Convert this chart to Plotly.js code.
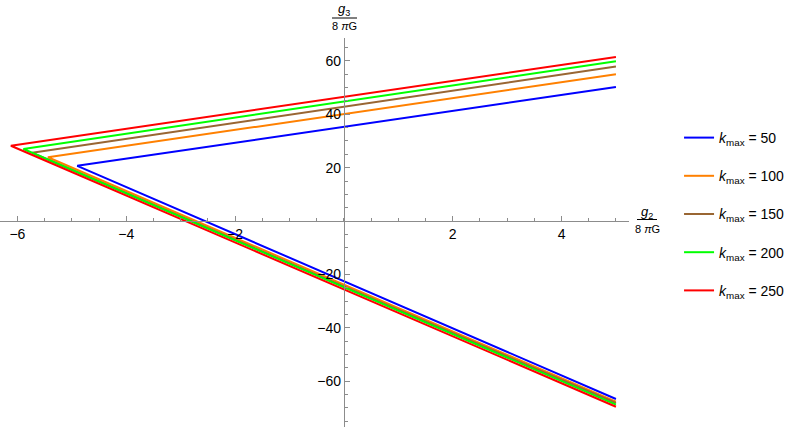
<!DOCTYPE html>
<html>
<head>
<meta charset="utf-8">
<script src="https://cdn.plot.ly/plotly-3.0.1.min.js"></script>
<style>body{margin:0;background:#fff;} #chart{width:797px;height:429px;}</style>
</head>
<body>
<div id="chart"></div>
<script>
// k_max values of each curve
const kmax = [50, 100, 150, 200, 250];
// Vertex of each V-shaped curve (g2/8πG, g3/8πG)
const vertexX = [-4.90, -5.44, -5.73, -5.89, -6.12];
const vertexY = [20.7, 23.9, 25.6, 27.0, 28.2];
// End values at g2/8πG = 5
const endX = 5;
const upperY = [50.2, 55.0, 57.9, 59.9, 61.5];
const lowerY = [-66.7, -67.7, -68.2, -68.8, -69.6];
const colors = ['#0000FF', '#FF8000', '#996633', '#00FF00', '#FF0000'];

const xTicks = [-6, -4, -2, 2, 4];
const yTicks = [-60, -40, -20, 20, 40, 60];
const xRange = [-6.32, 5.24];
const yRange = [-77.2, 68.6];

const traces = kmax.map((k, i) => ({
  type: 'scatter',
  mode: 'lines',
  x: [endX, vertexX[i], endX],
  y: [upperY[i], vertexY[i], lowerY[i]],
  line: {color: colors[i], width: 2},
  name: '<i>k</i><sub>max</sub> = ' + k,
  legendgroup: 'g' + i,
  hoverinfo: 'skip'
}));

const axisCommon = {
  showgrid: false,
  zeroline: false,
  showline: true,
  linecolor: '#8c8c8c',
  linewidth: 1,
  ticks: 'inside',
  ticklen: 5,
  tickcolor: '#8c8c8c',
  tickwidth: 1,
  tickmode: 'array',
  tickfont: {family: 'Liberation Sans, Arial, sans-serif', size: 14, color: '#000'},
  fixedrange: true
};

const layout = {
  width: 797,
  height: 429,
  margin: {l: 0, r: 168, t: 38, b: 2},
  paper_bgcolor: '#fff',
  plot_bgcolor: '#fff',
  showlegend: true,
  legend: {
    xref: 'container', yref: 'container',
    x: 0.852, y: 1 - 122/429, xanchor: 'left', yanchor: 'top',
    font: {family: 'Liberation Sans, Arial, sans-serif', size: 14, color: '#000'},
    tracegroupgap: 17,
    itemwidth: 30,
    bgcolor: 'rgba(0,0,0,0)'
  },
  xaxis: Object.assign({}, axisCommon, {
    range: xRange,
    tickvals: xTicks,
    ticktext: xTicks.map(v => v < 0 ? '\u2212' + Math.abs(v) : String(v)),
    anchor: 'free',
    position: (0 - yRange[0]) / (yRange[1] - yRange[0]),
    minor: {dtick: 0.5, tick0: 0, ticks: 'inside', ticklen: 3, tickcolor: '#8c8c8c'}
  }),
  yaxis: Object.assign({}, axisCommon, {
    range: yRange,
    tickvals: yTicks,
    ticktext: yTicks.map(v => v < 0 ? '\u2212' + Math.abs(v) : String(v)),
    anchor: 'free',
    position: (0 - xRange[0]) / (xRange[1] - xRange[0]),
    minor: {dtick: 5, tick0: 0, ticks: 'inside', ticklen: 3, tickcolor: '#8c8c8c'}
  }),
  annotations: [
    {xref: 'paper', yref: 'paper', x: 344/629, y: (427-10)/389, text: '<i>g</i><sub>3</sub>', showarrow: false,
     font: {family: 'Liberation Sans, Arial, sans-serif', size: 13, color: '#000'}, xanchor: 'center', yanchor: 'middle'},
    {xref: 'paper', yref: 'paper', x: 344/629, y: (427-26)/389, text: '8 <i>π</i>G', showarrow: false,
     font: {family: 'Liberation Sans, Arial, sans-serif', size: 11, color: '#000'}, xanchor: 'center', yanchor: 'middle'},
    {xref: 'paper', yref: 'paper', x: 647/629, y: (427-212.5)/389, text: '<i>g</i><sub>2</sub>', showarrow: false,
     font: {family: 'Liberation Sans, Arial, sans-serif', size: 13, color: '#000'}, xanchor: 'center', yanchor: 'middle'},
    {xref: 'paper', yref: 'paper', x: 647/629, y: (427-229)/389, text: '8 <i>π</i>G', showarrow: false,
     font: {family: 'Liberation Sans, Arial, sans-serif', size: 11, color: '#000'}, xanchor: 'center', yanchor: 'middle'}
  ],
  shapes: [
    {type: 'line', xref: 'paper', yref: 'paper', x0: 332/629, x1: 357/629, y0: (427-18)/389, y1: (427-18)/389,
     line: {color: '#000', width: 1}},
    {type: 'line', xref: 'paper', yref: 'paper', x0: 637/629, x1: 657/629, y0: (427-219.5)/389, y1: (427-219.5)/389,
     line: {color: '#000', width: 1}}
  ]
};

Plotly.newPlot('chart', traces, layout, {displayModeBar: false, staticPlot: true});
</script>
</body>
</html>
